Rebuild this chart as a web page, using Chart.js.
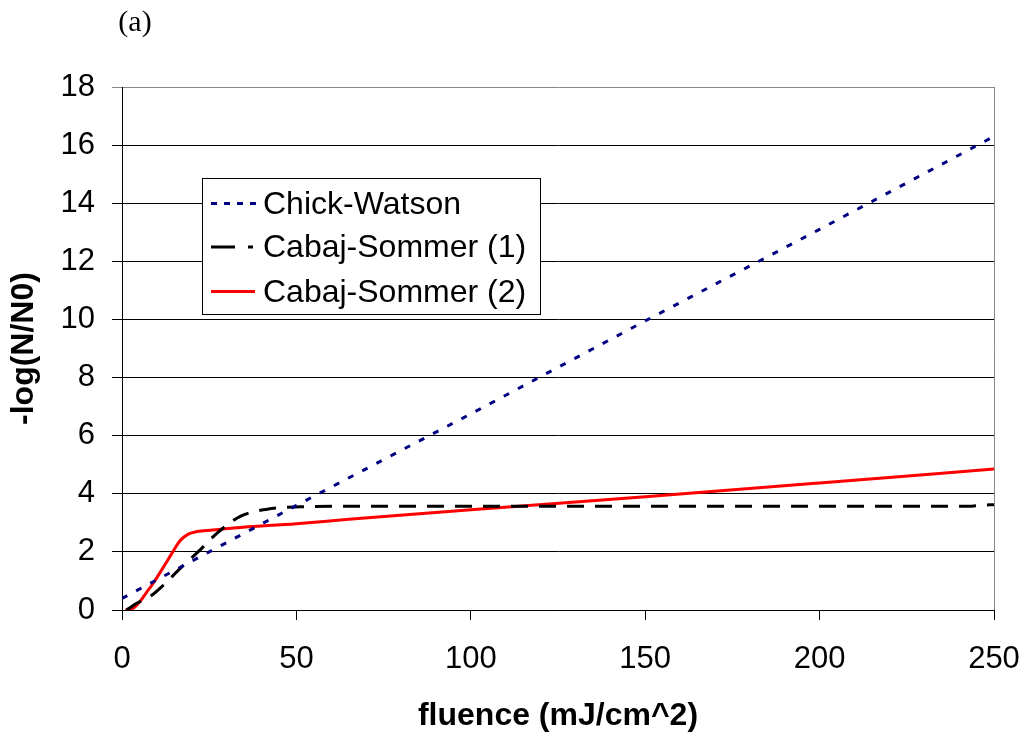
<!DOCTYPE html>
<html><head><meta charset="utf-8">
<script src="https://cdn.jsdelivr.net/npm/chart.js@4.4.1/dist/chart.umd.min.js"></script>
<style>html,body{margin:0;padding:0;background:#fff;} canvas{display:block;}</style>
</head><body>
<canvas id="c" width="1026" height="736"></canvas>
<script>
// ---- data ----
const seriesNames = ['Chick-Watson', 'Cabaj-Sommer (1)', 'Cabaj-Sommer (2)'];
const chickX = [0, 50, 100, 150, 200, 250];
const chickY = [0.4, 3.6, 6.75, 9.95, 13.1, 16.3];
const cs1X = [1.3, 4.2, 8, 11.9, 16.7, 22.4, 27.2, 33.9, 41.6, 51.1, 65.5, 100, 150, 200, 243, 246, 250];
const cs1Y = [0, 0.23, 0.46, 0.86, 1.43, 2.07, 2.64, 3.22, 3.47, 3.55, 3.57, 3.57, 3.57, 3.57, 3.57, 3.61, 3.62];
const cs2X = [1, 3, 5, 7, 9, 12, 14.3, 16.7, 19, 21.5, 26, 32, 50, 65, 100, 150, 200, 250];
const cs2Y = [0, 0.05, 0.27, 0.6, 0.93, 1.5, 1.95, 2.39, 2.61, 2.70, 2.75, 2.82, 2.97, 3.12, 3.45, 3.9, 4.37, 4.85];
const xTicks = [0, 50, 100, 150, 200, 250];
const yTicks = [0, 2, 4, 6, 8, 10, 12, 14, 16, 18];
const panelLabel = '(a)';
const xTitle = 'fluence (mJ/cm^2)';
const yTitle = '-log(N/N0)';

const pts = (xs, ys) => xs.map((x, i) => ({x: x, y: ys[i]}));
const SANS = 'Liberation Sans, Arial, sans-serif';

const overlay = {
  id: 'overlay',
  afterDraw(chart) {
    const ctx = chart.ctx, a = chart.chartArea;
    ctx.save();
    // right frame line
    ctx.strokeStyle = '#888'; ctx.lineWidth = 1; ctx.setLineDash([]);
    const rx = Math.round(a.right) + 0.5;
    ctx.beginPath(); ctx.moveTo(rx, a.top); ctx.lineTo(rx, a.bottom); ctx.stroke();
    // panel label
    ctx.fillStyle = '#000';
    ctx.font = '30px Liberation Serif, Times New Roman, serif';
    ctx.textAlign = 'center'; ctx.textBaseline = 'middle';
    ctx.fillText(panelLabel, 135, 23);
    // legend box
    ctx.fillStyle = '#fff';
    ctx.fillRect(202.5, 178.5, 338, 136);
    ctx.strokeStyle = '#000'; ctx.lineWidth = 1;
    ctx.strokeRect(202.5, 178.5, 338, 136);
    const rows = [203.5, 247, 291.5];
    const dashes = [[6, 7], [24, 13], []];
    const ends = [256, 253, 255];
    chart.data.datasets.forEach((ds, i) => {
      ctx.strokeStyle = ds.borderColor; ctx.lineWidth = 3; ctx.lineCap = 'butt';
      ctx.setLineDash(dashes[i]);
      ctx.beginPath(); ctx.moveTo(211, rows[i]); ctx.lineTo(ends[i], rows[i]); ctx.stroke();
      ctx.setLineDash([]);
      ctx.fillStyle = '#000';
      ctx.font = '32px ' + SANS;
      ctx.textAlign = 'left'; ctx.textBaseline = 'middle';
      ctx.fillText(ds.label, 263, rows[i] + 1.5);
    });
    ctx.restore();
  }
};

new Chart(document.getElementById('c'), {
  type: 'line',
  data: {
    datasets: [
      {label: seriesNames[0], data: pts(chickX, chickY), borderColor: '#000080', borderWidth: 3,
       borderDash: [6, 10], pointRadius: 0, fill: false, tension: 0},
      {label: seriesNames[1], data: pts(cs1X, cs1Y), borderColor: '#000000', borderWidth: 3,
       borderDash: [17, 11], pointRadius: 0, fill: false, cubicInterpolationMode: 'monotone'},
      {label: seriesNames[2], data: pts(cs2X, cs2Y), borderColor: '#ff0000', borderWidth: 3,
       pointRadius: 0, fill: false, cubicInterpolationMode: 'monotone'}
    ]
  },
  options: {
    responsive: false,
    animation: false,
    layout: {padding: {top: 87, right: 32, left: 0, bottom: 0}},
    plugins: {legend: {display: false}, tooltip: {enabled: false}, title: {display: false}},
    scales: {
      x: {
        type: 'linear', position: 'bottom', min: 0, max: 250,
        afterBuildTicks: s => { s.ticks = xTicks.map(v => ({value: v})); },
        afterFit: s => { s.height = 126; s.paddingLeft = 0; s.paddingRight = 0; },
        grid: {drawOnChartArea: false, drawTicks: true, tickLength: 10, color: '#000', lineWidth: 1},
        border: {display: true, color: '#000', width: 1},
        ticks: {font: {family: SANS, size: 31}, color: '#000', padding: 21, maxRotation: 0, autoSkip: false},
        title: {display: true, text: xTitle, color: '#000',
                font: {family: SANS, size: 32, weight: 'bold'}, padding: {top: 0, bottom: 1}}
      },
      y: {
        type: 'linear', position: 'left', min: 0, max: 18,
        afterBuildTicks: s => { s.ticks = yTicks.map(v => ({value: v})); },
        afterFit: s => { s.width = 122; s.paddingTop = 0; s.paddingBottom = 0; },
        grid: {drawTicks: true, tickLength: 10, lineWidth: 1,
               color: c => (c.tick && c.tick.value === 18) ? '#888' : '#000'},
        border: {display: true, color: '#000', width: 1},
        ticks: {font: {family: SANS, size: 31}, color: '#000', padding: 17},
        title: {display: true, text: yTitle, color: '#000',
                font: {family: SANS, size: 32, weight: 'bold'}, padding: {top: 5, bottom: 0}}
      }
    }
  },
  plugins: [overlay]
});
</script>
</body></html>
